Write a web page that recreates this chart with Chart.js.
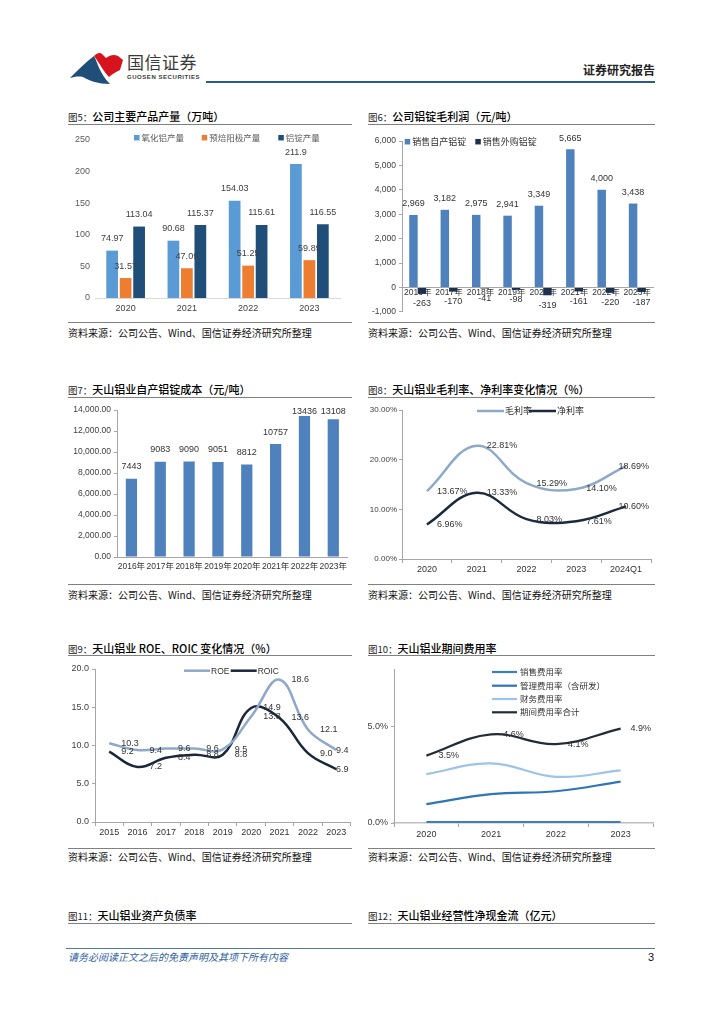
<!DOCTYPE html>
<html><head><meta charset="utf-8">
<script src="https://cdn.jsdelivr.net/npm/chart.js@4.4.1/dist/chart.umd.min.js"></script>
<style>
body{margin:0;background:#fff;width:724px;height:1024px;position:relative;overflow:hidden;font-family:"Noto Sans CJK SC",sans-serif;}
.abs{position:absolute;white-space:nowrap;}
.cap{position:absolute;font-size:11px;font-weight:500;color:#000;white-space:nowrap;line-height:14px;}
.cap span{font-size:9.5px;font-weight:normal;color:#222;}
.hl{position:absolute;height:0;border-top:1.5px solid #808080;}
.src{position:absolute;font-size:10px;color:#111;white-space:nowrap;line-height:12px;}
canvas{position:absolute;}
</style></head><body>

<svg class="abs" style="left:68px;top:50px" width="60" height="36" viewBox="0 0 60 36">
 <path d="M2,28 C10,20 18,12 26,6 C30,14 32,24 42,34 C30,34 22,31 15,27 C10,26 6,27 2,28 Z" fill="#1f4e79"/>
 <path d="M26,6 C29,3 32,2 34,4 L38,8 C42,5 46,4 50,6 L55,10 L52,20 C48,22 44,24 41,27 C36,22 32,14 26,6 Z" fill="#d7141e"/>
</svg>
<div class="abs" style="left:127px;top:52px;font-size:17px;line-height:20px;color:#3a3a3a;letter-spacing:0.5px;">国信证券</div>
<div class="abs" style="left:127px;top:73px;font-size:6px;line-height:8px;color:#3a3a3a;font-family:'Liberation Sans',sans-serif;font-weight:bold;letter-spacing:0.55px;">GUOSEN SECURITIES</div>
<div class="abs" style="right:69px;top:62px;font-size:12px;line-height:15px;font-weight:bold;color:#222;">证券研究报告</div>
<div class="abs" style="left:206px;top:81px;width:449px;height:2px;background:#2b5c8f;"></div>

<div class="cap" style="left:68px;top:109px"><span>图5：</span>公司主要产品产量（万吨）</div>
<div class="hl" style="left:68px;top:124px;width:284px"></div>
<div class="cap" style="left:368px;top:109px"><span>图6：</span>公司铝锭毛利润（元/吨）</div>
<div class="hl" style="left:368px;top:124px;width:287px"></div>
<div class="hl" style="left:68px;top:321.5px;width:284px"></div>
<div class="src" style="left:68px;top:327px">资料来源：公司公告、Wind、国信证券经济研究所整理</div>
<div class="hl" style="left:368px;top:321.5px;width:287px"></div>
<div class="src" style="left:368px;top:327px">资料来源：公司公告、Wind、国信证券经济研究所整理</div>

<div class="cap" style="left:68px;top:382px"><span>图7：</span>天山铝业自产铝锭成本（元/吨）</div>
<div class="hl" style="left:68px;top:397px;width:284px"></div>
<div class="cap" style="left:368px;top:382px"><span>图8：</span>天山铝业毛利率、净利率变化情况（%）</div>
<div class="hl" style="left:368px;top:397px;width:287px"></div>
<div class="hl" style="left:68px;top:583.5px;width:284px"></div>
<div class="src" style="left:68px;top:589px">资料来源：公司公告、Wind、国信证券经济研究所整理</div>
<div class="hl" style="left:368px;top:583.5px;width:287px"></div>
<div class="src" style="left:368px;top:589px">资料来源：公司公告、Wind、国信证券经济研究所整理</div>

<div class="cap" style="left:68px;top:641px"><span>图9：</span>天山铝业 ROE、ROIC 变化情况（%）</div>
<div class="hl" style="left:68px;top:655px;width:284px"></div>
<div class="cap" style="left:368px;top:641px"><span>图10：</span>天山铝业期间费用率</div>
<div class="hl" style="left:368px;top:655px;width:287px"></div>
<div class="hl" style="left:68px;top:847.5px;width:284px"></div>
<div class="src" style="left:68px;top:851px">资料来源：公司公告、Wind、国信证券经济研究所整理</div>
<div class="hl" style="left:368px;top:847.5px;width:287px"></div>
<div class="src" style="left:368px;top:851px">资料来源：公司公告、Wind、国信证券经济研究所整理</div>

<div class="cap" style="left:68px;top:908px"><span>图11：</span>天山铝业资产负债率</div>
<div class="hl" style="left:68px;top:923px;width:284px"></div>
<div class="cap" style="left:368px;top:908px"><span>图12：</span>天山铝业经营性净现金流（亿元）</div>
<div class="hl" style="left:368px;top:923px;width:287px"></div>

<div class="abs" style="left:66px;top:948px;width:589px;height:1px;background:#4f7aa6;"></div>
<div class="abs" style="left:68px;top:950px;font-size:10px;line-height:14px;font-style:italic;color:#2f5f9f;">请务必阅读正文之后的免责声明及其项下所有内容</div>
<div class="abs" style="right:70px;top:950px;font-size:11px;line-height:14px;color:#111;font-family:'Liberation Sans',sans-serif;">3</div>

<script>
// ---------- data ----------
const years5 = ['2020','2021','2022','2023'];
const aluminaOutput = [74.97, 90.68, 154.03, 211.9];
const anodeOutput = [31.57, 47.09, 51.25, 59.89];
const ingotOutput = [113.04, 115.37, 115.61, 116.55];

const years6 = ['2016年','2017年','2018年','2019年','2020年','2021年','2022年','2023年'];
const selfIngotProfit = [2969, 3182, 2975, 2941, 3349, 5665, 4000, 3438];
const purchasedIngotProfit = [-263, -170, -41, -98, -319, -161, -220, -187];

const years7 = ['2016年','2017年','2018年','2019年','2020年','2021年','2022年','2023年'];
const ingotCost = [7443, 9083, 9090, 9051, 8812, 10757, 13436, 13108];

const periods8 = ['2020','2021','2022','2023','2024Q1'];
const grossMargin = [13.67, 22.81, 15.29, 14.10, 18.69];
const netMargin = [6.96, 13.33, 8.03, 7.61, 10.60];

const years9 = ['2015','2016','2017','2018','2019','2020','2021','2022','2023'];
const roe = [10.3, 9.4, 9.6, 9.6, 9.5, 13.8, 18.6, 12.1, 9.4];
const roic = [9.2, 7.2, 8.4, 8.8, 8.8, 14.9, 13.6, 9.0, 6.9];

const years10 = ['2020','2021','2022','2023'];
const sellingRate = [0.05, 0.05, 0.05, 0.05];
const adminRate = [0.98, 1.5, 1.65, 2.15];
const financeRate = [2.54, 3.1, 2.4, 2.73];
const totalRate = [3.5, 4.6, 4.1, 4.9];

// ---------- setup ----------
const FONT = '"Liberation Sans","Noto Sans CJK SC",sans-serif';
Chart.defaults.font.family = FONT;
Chart.defaults.font.size = 9;
Chart.defaults.color = '#404040';
Chart.defaults.plugins.legend.display = false;
Chart.defaults.plugins.tooltip.enabled = false;

function mk(left, top, w, h, cfg) {
  const c = document.createElement('canvas');
  c.width = w; c.height = h;
  c.style.left = left + 'px'; c.style.top = top + 'px';
  c.style.width = w + 'px'; c.style.height = h + 'px';
  document.body.appendChild(c);
  cfg.options = Object.assign({responsive:false, animation:false, devicePixelRatio:1}, cfg.options);
  return new Chart(c, cfg);
}

function legendPlugin(o) {
  return { id:'lg', afterDraw(chart) {
    const ctx = chart.ctx; ctx.save();
    ctx.font = (o.size || 9) + 'px ' + FONT;
    ctx.textBaseline = 'middle'; ctx.textAlign = 'left';
    o.items.forEach(it => {
      const ds = chart.data.datasets[it.ds];
      if (o.type === 'line') {
        ctx.strokeStyle = ds.borderColor; ctx.lineWidth = o.lw || 2.5;
        ctx.beginPath(); ctx.moveTo(it.x, it.y); ctx.lineTo(it.x + o.len, it.y); ctx.stroke();
        ctx.fillStyle = o.color; ctx.fillText(ds.label, it.x + o.len + o.gap, it.y + 0.5);
      } else {
        const s = o.box;
        ctx.fillStyle = ds.backgroundColor; ctx.fillRect(it.x, it.y - s/2, s, s);
        ctx.fillStyle = o.color; ctx.fillText(ds.label, it.x + s + o.gap, it.y + 0.5);
      }
    });
    ctx.restore();
  }};
}

function labelPlugin(o) {
  return { id:'vl', afterDatasetsDraw(chart) {
    const ctx = chart.ctx, area = chart.chartArea; ctx.save();
    ctx.font = (o.size || 9) + 'px ' + FONT;
    ctx.fillStyle = o.color || '#333';
    ctx.textBaseline = 'middle';
    o.sets.forEach(s => {
      const meta = chart.getDatasetMeta(s.ds);
      const data = chart.data.datasets[s.ds].data;
      meta.data.forEach((el, i) => {
        const v = data[i]; const txt = s.fmt(v);
        const w = ctx.measureText(txt).width;
        let x, y;
        if (s.mode === 'bar') {
          ctx.textAlign = 'center';
          x = el.x;
          y = v >= 0 ? el.y - s.dy : el.y + s.dy;
          if (s.minTop != null) y = Math.max(y, area.top + s.minTop);
        } else {
          ctx.textAlign = 'left';
          x = el.x + s.dx; y = el.y;
          if (x + w > area.right - 2) x = area.right - 2 - w;
        }
        ctx.fillText(txt, x, y);
      });
    });
    ctx.restore();
  }};
}

const axisGrey = '#a6a6a6';
const flatTicks = {maxRotation:0, minRotation:0, autoSkip:false};

// ---------- Chart 5 ----------
mk(68, 128, 284, 192, {
  type:'bar',
  data:{labels:years5, datasets:[
    {label:'氧化铝产量', data:aluminaOutput, backgroundColor:'#5b9bd5', categoryPercentage:0.66, barPercentage:0.87},
    {label:'预焙阳极产量', data:anodeOutput, backgroundColor:'#ed7d31', categoryPercentage:0.66, barPercentage:0.87},
    {label:'铝锭产量', data:ingotOutput, backgroundColor:'#1f4e79', categoryPercentage:0.66, barPercentage:0.87}
  ]},
  options:{
    layout:{padding:{left:0,right:12,top:12,bottom:0}},
    scales:{
      x:{grid:{display:false,drawTicks:false}, border:{display:true,color:'#d9d9d9'}, ticks:Object.assign({padding:5,color:'#404040'},flatTicks), afterFit:s=>{s.height=22;}},
      y:{min:0,max:250, grid:{display:false,drawTicks:false}, border:{display:false}, ticks:{stepSize:50,padding:5,color:'#595959'}, afterFit:s=>{s.width=27;}}
    }
  },
  plugins:[
    legendPlugin({type:'box', box:5.5, gap:2, color:'#595959', size:8.5, items:[{ds:0,x:66,y:9.7},{ds:1,x:133.7,y:9.7},{ds:2,x:210.3,y:9.7}]}),
    labelPlugin({color:'#404040', sets:[0,1,2].map(d=>({ds:d, mode:'bar', dy:12, fmt:v=>String(v)}))})
  ]
});

// ---------- Chart 6 ----------
mk(368, 128, 287, 192, {
  type:'bar',
  data:{labels:years6, datasets:[
    {label:'销售自产铝锭', data:selfIngotProfit, backgroundColor:'#4f81bd', categoryPercentage:0.54, barPercentage:1.0},
    {label:'销售外购铝锭', data:purchasedIngotProfit, backgroundColor:'#1b2f4f', categoryPercentage:0.54, barPercentage:1.0}
  ]},
  options:{
    layout:{padding:{left:0,right:2,top:13,bottom:0}},
    scales:{
      x:{position:{y:0}, z:1, grid:{display:false,drawTicks:false}, border:{display:true,color:axisGrey}, ticks:Object.assign({padding:0,color:'#333',font:{size:8.5}},flatTicks), afterFit:s=>{s.height=8;}},
      y:{min:-1000,max:6000, grid:{display:true,drawOnChartArea:false,drawTicks:true,tickLength:3,color:axisGrey}, border:{display:true,color:axisGrey},
         ticks:{stepSize:1000,padding:3,color:'#404040',font:{size:8.5},callback:v=>v.toLocaleString('en-US')}, afterFit:s=>{s.width=34;}}
    }
  },
  plugins:[
    legendPlugin({type:'box', box:5.5, gap:2, color:'#333', size:9, items:[{ds:0,x:36.7,y:13.7},{ds:1,x:107.3,y:13.7}]}),
    labelPlugin({color:'#333', sets:[{ds:0,mode:'bar',dy:11,fmt:v=>v.toLocaleString('en-US')},{ds:1,mode:'bar',dy:10,fmt:v=>v.toLocaleString('en-US')}]})
  ]
});

// ---------- Chart 7 ----------
mk(68, 400, 284, 178, {
  type:'bar',
  data:{labels:years7, datasets:[
    {label:'自产铝锭成本', data:ingotCost, backgroundColor:'#4f81bd', categoryPercentage:0.39, barPercentage:1.0}
  ]},
  options:{
    layout:{padding:{left:0,right:0,top:10,bottom:0}},
    scales:{
      x:{grid:{display:false,drawTicks:false}, border:{display:true,color:axisGrey}, ticks:Object.assign({padding:5,color:'#333',font:{size:8.5}},flatTicks), afterFit:s=>{s.height=21;}},
      y:{min:0,max:14000, grid:{display:true,drawOnChartArea:false,drawTicks:true,tickLength:3,color:axisGrey}, border:{display:true,color:axisGrey},
         ticks:{stepSize:2000,padding:3,color:'#404040',font:{size:8.5},callback:v=>v.toLocaleString('en-US',{minimumFractionDigits:2,maximumFractionDigits:2})}, afterFit:s=>{s.width=49;}}
    }
  },
  plugins:[
    labelPlugin({color:'#333', sets:[{ds:0,mode:'bar',dy:12,minTop:2,fmt:v=>String(v)}]})
  ]
});

// ---------- Chart 8 ----------
mk(368, 400, 287, 179, {
  type:'line',
  data:{labels:periods8, datasets:[
    {label:'毛利率', data:grossMargin, borderColor:'#8ea9c8', borderWidth:2.5, pointRadius:0, tension:0.4, fill:false},
    {label:'净利率', data:netMargin, borderColor:'#1c2a3e', borderWidth:2.5, pointRadius:0, tension:0.4, fill:false}
  ]},
  options:{
    layout:{padding:{left:0,right:4,top:10,bottom:0}},
    scales:{
      x:{offset:true, grid:{display:true,offset:true,drawOnChartArea:false,drawTicks:true,tickLength:4,color:axisGrey}, border:{display:true,color:axisGrey}, ticks:Object.assign({padding:1,color:'#333'},flatTicks), afterFit:s=>{s.height=20;}},
      y:{min:0,max:30, grid:{display:true,drawOnChartArea:false,drawTicks:true,tickLength:3,color:axisGrey}, border:{display:true,color:axisGrey},
         ticks:{stepSize:10,padding:2,color:'#404040',font:{size:8},callback:v=>v.toFixed(2)+'%'}, afterFit:s=>{s.width=34;}}
    }
  },
  plugins:[
    legendPlugin({type:'line', len:27, gap:1, lw:2.5, color:'#333', size:9, items:[{ds:0,x:109,y:11},{ds:1,x:161,y:11}]}),
    labelPlugin({color:'#333', sets:[0,1].map(d=>({ds:d,mode:'right',dx:10,fmt:v=>v.toFixed(2)+'%'}))})
  ]
});

// ---------- Chart 9 ----------
mk(68, 657, 284, 185, {
  type:'line',
  data:{labels:years9, datasets:[
    {label:'ROE', data:roe, borderColor:'#8ea9c8', borderWidth:2.5, pointRadius:0, tension:0.4, fill:false},
    {label:'ROIC', data:roic, borderColor:'#1a2639', borderWidth:2.5, pointRadius:0, tension:0.4, fill:false}
  ]},
  options:{
    layout:{padding:{left:0,right:1.5,top:12,bottom:0}},
    scales:{
      x:{offset:true, grid:{display:true,offset:true,drawOnChartArea:false,drawTicks:true,tickLength:4,color:axisGrey}, border:{display:true,color:axisGrey}, ticks:Object.assign({padding:1,color:'#333'},flatTicks), afterFit:s=>{s.height=20;}},
      y:{min:0,max:20, grid:{display:true,drawOnChartArea:false,drawTicks:true,tickLength:3,color:axisGrey}, border:{display:true,color:axisGrey},
         ticks:{stepSize:5,padding:3,color:'#404040',callback:v=>v.toFixed(1)}, afterFit:s=>{s.width=27;}}
    }
  },
  plugins:[
    legendPlugin({type:'line', len:26, gap:1, lw:2.5, color:'#333', size:8.5, items:[{ds:0,x:116,y:13.7},{ds:1,x:162.7,y:13.7}]}),
    labelPlugin({color:'#333', sets:[0,1].map(d=>({ds:d,mode:'right',dx:12,fmt:v=>v.toFixed(1)}))})
  ]
});

// ---------- Chart 10 ----------
mk(368, 657, 287, 186, {
  type:'line',
  data:{labels:years10, datasets:[
    {label:'销售费用率', data:sellingRate, borderColor:'#3f7dbb', borderWidth:2.2, pointRadius:0, tension:0.4, fill:false},
    {label:'管理费用率（含研发）', data:adminRate, borderColor:'#2e75b6', borderWidth:2.2, pointRadius:0, tension:0.4, fill:false},
    {label:'财务费用率', data:financeRate, borderColor:'#9dc3e6', borderWidth:2.2, pointRadius:0, tension:0.4, fill:false},
    {label:'期间费用率合计', data:totalRate, borderColor:'#222b38', borderWidth:2.2, pointRadius:0, tension:0.4, fill:false}
  ]},
  options:{
    layout:{padding:{left:0,right:2,top:12,bottom:0}},
    scales:{
      x:{offset:true, grid:{display:true,offset:true,drawOnChartArea:false,drawTicks:true,tickLength:4,color:axisGrey}, border:{display:true,color:'#bfbfbf',width:1.5}, ticks:Object.assign({padding:2,color:'#333'},flatTicks), afterFit:s=>{s.height=20;}},
      y:{min:0,max:8, grid:{display:true,drawOnChartArea:false,drawTicks:true,tickLength:3,color:axisGrey}, border:{display:true,color:axisGrey},
         afterBuildTicks:s=>{s.ticks = s.ticks.filter(t=>t.value===0||t.value===5);},
         ticks:{stepSize:5,padding:3,color:'#404040',callback:v=>v.toFixed(1)+'%'}, afterFit:s=>{s.width=26;}}
    }
  },
  plugins:[
    legendPlugin({type:'line', len:25, gap:3, lw:2.2, color:'#333', size:8.5, items:[{ds:0,x:124,y:15},{ds:1,x:124,y:28.7},{ds:2,x:124,y:42},{ds:3,x:124,y:55.3}]}),
    labelPlugin({color:'#333', sets:[{ds:3,mode:'right',dx:12,fmt:v=>v.toFixed(1)+'%'}]})
  ]
});
</script>
</body></html>
